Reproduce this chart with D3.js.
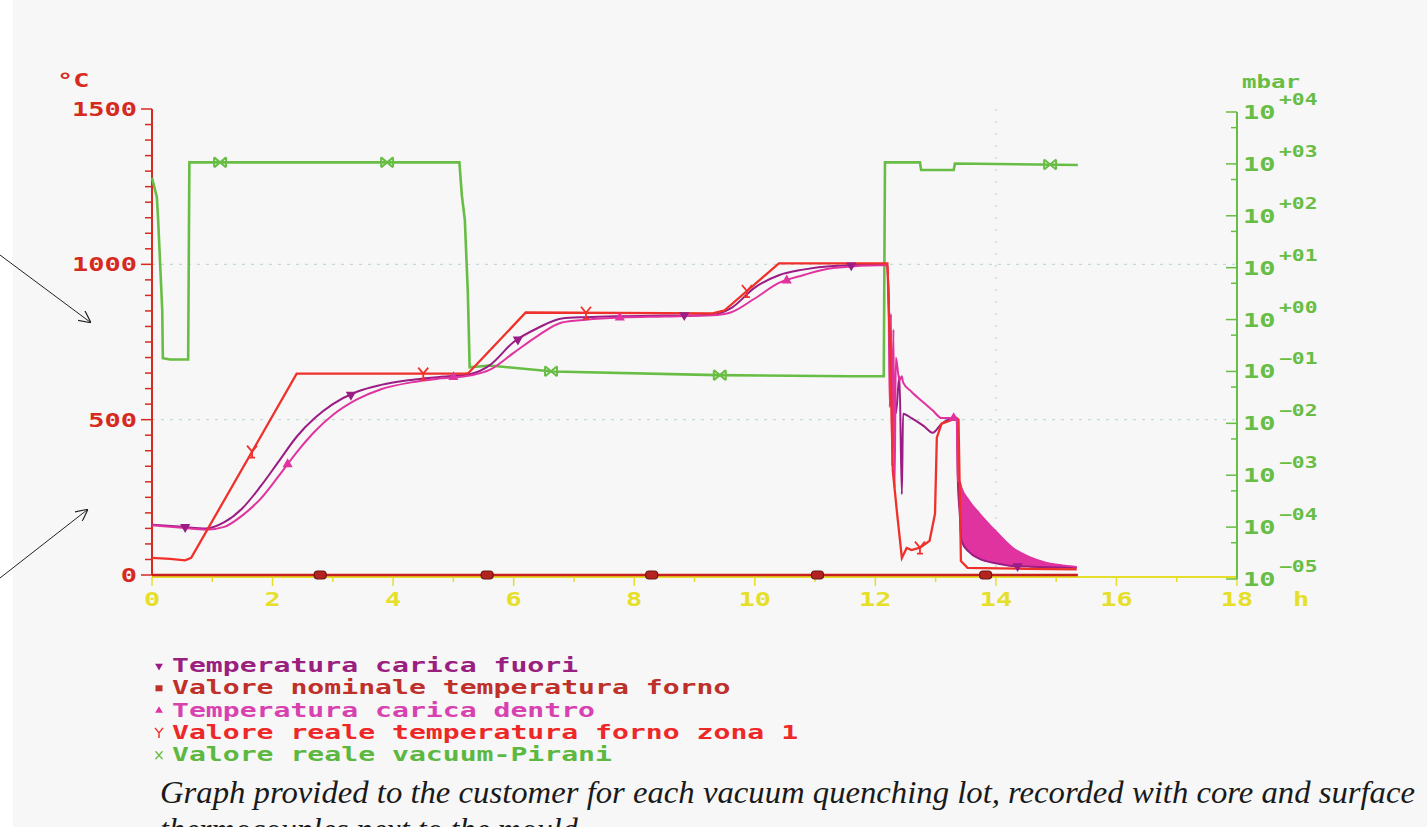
<!DOCTYPE html>
<html>
<head>
<meta charset="utf-8">
<script src="https://cdn.jsdelivr.net/npm/d3@7"></script>
<style>
  html, body { margin: 0; padding: 0; background: #f7f7f7; overflow: hidden; }
  svg { display: block; }
  .mono { font-family: "DejaVu Sans Mono", monospace; font-weight: bold; }
</style>
</head>
<body>
<script>
// ---- data ----
// charge thermocouples share one time base (hours)
const chargeHours = [0, 0.5, 0.9, 1.2, 1.5, 1.8, 2.1, 2.4, 2.7, 3.0, 3.4, 3.8, 4.3, 4.8, 5.3, 5.6, 6.0, 6.4, 6.8, 7.2, 7.8, 8.5, 9.3, 9.6, 10.0, 10.4, 10.8, 11.3, 12.2,
  12.22, 12.24, 12.26, 12.28, 12.30, 12.32, 12.34, 12.40, 12.44, 12.46, 12.6, 12.8, 12.95, 13.1, 13.35, 13.37, 13.40, 13.43, 13.55, 13.73, 14.0, 14.28, 14.55, 14.84, 15.1, 15.34];
const chargeOutside = [162, 155, 150, 170, 215, 285, 365, 445, 505, 550, 590, 612, 628, 638, 648, 675, 750, 795, 826, 830, 833, 835, 838, 858, 925, 965, 983, 995, 1000,
  900, 760, 650, 600, 560, 530, 520, 640, 260, 519, 505, 480, 458, 487, 506, 300, 200, 110, 75, 52, 38, 29, 27, 25, 24, 23];
const chargeInside = [160, 152, 146, 155, 192, 245, 318, 395, 462, 515, 565, 598, 620, 633, 643, 660, 715, 770, 813, 822, 829, 832, 836, 845, 890, 940, 965, 988, 998,
  870, 540, 840, 350, 790, 280, 700, 626, 640, 620, 590, 555, 530, 505, 505, 303, 300, 280, 240, 197, 140, 87, 58, 39, 31, 26];

const furnaceHours = [0, 0.3, 0.55, 0.65, 2.4, 5.2, 5.25, 6.2, 9.3, 9.5, 10.4, 12.2, 12.25, 12.29, 12.36, 12.44, 12.52, 12.6, 12.74, 12.9, 12.99, 13.02, 13.1, 13.35, 13.38, 13.42, 13.53, 14.5, 15.34];
const furnaceZone1 = [55, 52, 47, 55, 648, 648, 650, 845, 842, 852, 1003, 1003, 700, 335, 200, 55, 87, 80, 88, 110, 197, 442, 487, 505, 500, 45, 23, 20, 18];

const nominalHours = [0, 15.36];
const nominalTemp = [0, 0];

const vacuumHours = [0, 0.08, 0.1, 0.17, 0.18, 0.3, 0.6, 0.62, 1.5, 5.1, 5.14, 5.19, 5.24, 5.27, 5.6, 6.65, 9.37, 11.58, 12.14, 12.16, 12.74, 12.76, 13.3, 13.32, 15.36];
const vacuumMbar = [540, 230, 93, 1.5, 0.18, 0.17, 0.17, 1070, 1070, 1070, 250, 83, 3.2, 0.12, 0.13, 0.10, 0.085, 0.081, 0.081, 1070, 1070, 760, 760, 1020, 955];

// where the recorder printed its series symbols (hours)
const markOutside = [0.55, 3.3, 6.07, 8.83, 11.6, 14.36];
const markInside = [2.25, 5.0, 7.76, 10.53, 13.3];
const markZone1 = [1.66, 4.5, 7.2, 9.87, 12.74];
const markNominal = [2.79, 5.56, 8.29, 11.04, 13.83];
const markVacuum = [1.13, 3.9, 6.62, 9.42, 14.9];

const tempTicks = [0, 500, 1000, 1500];
const hourTicks = [0, 2, 4, 6, 8, 10, 12, 14, 16, 18];
const pressureExp = [-5, -4, -3, -2, -1, 0, 1, 2, 3, 4];

const legendLabels = [
  "Temperatura carica fuori",
  "Valore nominale temperatura forno",
  "Temperatura carica dentro",
  "Valore reale temperatura forno zona 1",
  "Valore reale vacuum-Pirani"
];
const caption = "Graph provided to the customer for each vacuum quenching lot, recorded with core and surface";
const caption2 = "thermocouples next to the mould.";

// ---- colours ----
const cRed = "#f0302a", cAxisRed = "#d62a20", cNominal = "#c8201c", cInside = "#e0339f",
      cOutside = "#9a1c84", cGreen = "#68bd45", cYellow = "#e6df2a";

const width = 1427, height = 827;
const svg = d3.select("body").append("svg").attr("width", width).attr("height", height);

svg.append("rect").attr("width", width).attr("height", height).attr("fill", "#f7f7f7");
svg.append("rect").attr("width", 13).attr("height", height).attr("fill", "#ffffff");

const x = d3.scaleLinear().domain([0, 18]).range([152, 1237]);
const yT = d3.scaleLinear().domain([0, 1500]).range([575, 109]);
const yP = d3.scaleLog().domain([1e-5, 1e4]).range([579, 112]);

function monoText(g, px, py, str, size, color, anchor, sx) {
  return g.append("text")
    .attr("class", "mono")
    .attr("transform", `translate(${px},${py}) scale(${sx || 1.42},1)`)
    .attr("text-anchor", anchor || "start")
    .style("font-size", size + "px")
    .attr("fill", color)
    .text(str);
}

// ---- faint grid ----
const grid = svg.append("g");
[500, 1000].forEach(v => {
  grid.append("line").attr("x1", x(0)).attr("x2", x(18)).attr("y1", yT(v)).attr("y2", yT(v))
    .attr("stroke", "#9fc4c0").attr("stroke-width", 1).attr("stroke-dasharray", "3,6").attr("opacity", 0.7);
});
[14].forEach(v => {
  grid.append("line").attr("x1", x(v)).attr("x2", x(v)).attr("y1", yT(1500)).attr("y2", yT(0))
    .attr("stroke", "#a8bcc8").attr("stroke-width", 1).attr("stroke-dasharray", "2,10").attr("opacity", 0.8);
});

// ---- axes ----
const axes = svg.append("g");

// x axis (yellow)
axes.append("line").attr("x1", x(0)).attr("x2", x(18)).attr("y1", 577).attr("y2", 577)
  .attr("stroke", cYellow).attr("stroke-width", 2);
d3.range(0, 19).forEach(h => {
  axes.append("line").attr("x1", x(h)).attr("x2", x(h)).attr("y1", 577).attr("y2", h % 2 === 0 ? 586 : 582)
    .attr("stroke", cYellow).attr("stroke-width", 1.5);
});
hourTicks.forEach(h => monoText(axes, x(h), 606, String(h), 19, cYellow, "middle"));
monoText(axes, 1301, 606, "h", 19, cYellow, "middle");

// left temperature axis (red)
axes.append("line").attr("x1", x(0)).attr("x2", x(0)).attr("y1", yT(1500)).attr("y2", yT(0))
  .attr("stroke", cAxisRed).attr("stroke-width", 2);
d3.range(0, 1501, 50).forEach(v => {
  const major = v % 500 === 0;
  axes.append("line").attr("x1", x(0) - (major ? 11 : 7)).attr("x2", x(0)).attr("y1", yT(v)).attr("y2", yT(v))
    .attr("stroke", cAxisRed).attr("stroke-width", 1.5);
});
tempTicks.forEach(v => monoText(axes, 137, yT(v) + 7, String(v), 19, cAxisRed, "end"));
monoText(axes, 57, 87, "°C", 19, cAxisRed, "start");

// right pressure axis (green, log)
axes.append("line").attr("x1", x(18)).attr("x2", x(18)).attr("y1", yP(1e4)).attr("y2", yP(1e-5))
  .attr("stroke", cGreen).attr("stroke-width", 2);
pressureExp.forEach(e => {
  const p = Math.pow(10, e);
  axes.append("line").attr("x1", x(18) - 11).attr("x2", x(18)).attr("y1", yP(p)).attr("y2", yP(p))
    .attr("stroke", cGreen).attr("stroke-width", 1.5);
  if (e > -5) {
    axes.append("line").attr("x1", x(18) - 6).attr("x2", x(18)).attr("y1", yP(p / 2)).attr("y2", yP(p / 2))
      .attr("stroke", cGreen).attr("stroke-width", 1.5);
  }
  monoText(axes, 1243, yP(p) + 7, "10", 19, cGreen, "start");
  const sup = (e < 0 ? "\u2212" : "+") + String(Math.abs(e)).padStart(2, "0");
  monoText(axes, 1279, yP(p) - 7, sup, 15, cGreen, "start");
});
monoText(axes, 1242, 88, "mbar", 17, cGreen, "start");

// ---- series ----
const plot = svg.append("g");

function interp(hours, vals, t, log) {
  const i = Math.max(1, d3.bisectLeft(hours, t));
  const h0 = hours[i - 1], h1 = hours[i];
  const f = h1 === h0 ? 0 : (t - h0) / (h1 - h0);
  if (log) return Math.pow(10, Math.log10(vals[i - 1]) + f * (Math.log10(vals[i]) - Math.log10(vals[i - 1])));
  return vals[i - 1] + f * (vals[i] - vals[i - 1]);
}

const tempLine = d3.line().x(d => x(d[0])).y(d => yT(d[1]));
const tempCurve = d3.line().x(d => x(d[0])).y(d => yT(d[1])).curve(d3.curveMonotoneX);
const pressLine = d3.line().x(d => x(d[0])).y(d => yP(d[1]));

const outsidePts = chargeHours.map((h, i) => [h, chargeOutside[i]]);
const insidePts = chargeHours.map((h, i) => [h, chargeInside[i]]);
const furnacePts = furnaceHours.map((h, i) => [h, furnaceZone1[i]]);
const nominalPts = nominalHours.map((h, i) => [h, nominalTemp[i]]);
const vacuumPts = vacuumHours.map((h, i) => [h, vacuumMbar[i]]);

// vacuum
plot.append("path").attr("d", pressLine(vacuumPts)).attr("fill", "none")
  .attr("stroke", cGreen).attr("stroke-width", 2.6);

// quench band between core and surface readings
const bandIdx = chargeHours.map((h, i) => i).filter(i => chargeHours[i] >= 13.37);
const band = d3.area().x(i => x(chargeHours[i])).y0(i => yT(chargeOutside[i])).y1(i => yT(chargeInside[i]))
  .curve(d3.curveMonotoneX);
plot.append("path").attr("d", band(bandIdx)).attr("fill", cInside).attr("stroke", cInside).attr("stroke-width", 1);

plot.append("path").attr("d", tempCurve(outsidePts)).attr("fill", "none")
  .attr("stroke", cOutside).attr("stroke-width", 2);
plot.append("path").attr("d", tempCurve(insidePts)).attr("fill", "none")
  .attr("stroke", cInside).attr("stroke-width", 2);

plot.append("path").attr("d", tempLine(furnacePts)).attr("fill", "none")
  .attr("stroke", cRed).attr("stroke-width", 2.3);

plot.append("path").attr("d", tempLine(nominalPts)).attr("fill", "none")
  .attr("stroke", cNominal).attr("stroke-width", 2.4);

// ---- symbols ----
const triDown = d3.symbol(d3.symbolTriangle, 45)();
const triUp = d3.symbol(d3.symbolTriangle, 45)();
const yShape = "M-5,-6L0,0L5,-6M0,0V6M-3,6H3";
const xShape = "M-6,-5L6,5M-6,5L6,-5M-6,-5V5M6,-5V5";

function drawMarks(times, getY, draw) {
  times.forEach(t => draw(plot.append("g").attr("transform", `translate(${x(t)},${getY(t)})`)));
}
drawMarks(markOutside, t => yT(interp(chargeHours, chargeOutside, t)),
  g => g.append("path").attr("d", triDown).attr("transform", "rotate(180)").attr("fill", cOutside));
drawMarks(markInside, t => yT(interp(chargeHours, chargeInside, t)),
  g => g.append("path").attr("d", triUp).attr("fill", cInside));
drawMarks(markZone1, t => yT(interp(furnaceHours, furnaceZone1, t)),
  g => g.append("path").attr("d", yShape).attr("fill", "none").attr("stroke", cRed).attr("stroke-width", 1.8));
drawMarks(markNominal, t => yT(interp(nominalHours, nominalTemp, t)),
  g => g.append("rect").attr("x", -6).attr("y", -4).attr("width", 12).attr("height", 8).attr("rx", 3)
    .attr("fill", "#b5231e").attr("stroke", "#6a1a18").attr("stroke-width", 1.2));
drawMarks(markVacuum, t => yP(interp(vacuumHours, vacuumMbar, t, true)),
  g => g.append("path").attr("d", xShape).attr("fill", "none").attr("stroke", cGreen).attr("stroke-width", 2));

// ---- legend ----
const legend = svg.append("g");
const legendColors = ["#9a2080", "#c0302a", "#d842b0", "#ee2828", "#5cb840"];
const legendSymbols = [
  g => g.append("path").attr("d", d3.symbol(d3.symbolTriangle, 26)()).attr("transform", "rotate(180)").attr("fill", cOutside),
  g => g.append("rect").attr("x", -3.5).attr("y", -3).attr("width", 7).attr("height", 6).attr("fill", "#c0302a"),
  g => g.append("path").attr("d", d3.symbol(d3.symbolTriangle, 26)()).attr("fill", cInside),
  g => g.append("path").attr("d", "M-4,-5L0,0L4,-5M0,0V5").attr("fill", "none").attr("stroke", cRed).attr("stroke-width", 1.5),
  g => g.append("path").attr("d", "M-3.5,-4L3.5,4M-3.5,4L3.5,-4").attr("fill", "none").attr("stroke", cGreen).attr("stroke-width", 1.3)
];
legendLabels.forEach((lab, i) => {
  const by = 672 + i * 22.3;
  legendSymbols[i](legend.append("g").attr("transform", `translate(159,${by - 6})`));
  monoText(legend, 172, by, lab, 19, legendColors[i], "start", 1.48);
});

// ---- caption ----
svg.append("text").attr("x", 160).attr("y", 803)
  .attr("textLength", 1255).attr("lengthAdjust", "spacingAndGlyphs")
  .style("font-family", "'Liberation Serif', 'DejaVu Serif', serif").style("font-style", "italic")
  .style("font-size", "32px").attr("fill", "#1a1a1a").text(caption);
svg.append("text").attr("x", 160).attr("y", 840)
  .style("font-family", "'Liberation Serif', 'DejaVu Serif', serif").style("font-style", "italic")
  .style("font-size", "32px").attr("fill", "#1a1a1a").text(caption2);

// ---- pointer arrows on the left margin ----
svg.append("defs").append("marker").attr("id", "arr").attr("viewBox", "0 0 10 10")
  .attr("refX", 9).attr("refY", 5).attr("markerWidth", 12).attr("markerHeight", 12).attr("orient", "auto")
  .attr("markerUnits", "userSpaceOnUse")
  .append("path").attr("d", "M0,0L10,5L0,10").attr("fill", "none").attr("stroke", "#222").attr("stroke-width", 1);
svg.append("line").attr("x1", 0).attr("y1", 255).attr("x2", 90).attr("y2", 322)
  .attr("stroke", "#222").attr("stroke-width", 1).attr("marker-end", "url(#arr)");
svg.append("line").attr("x1", 0).attr("y1", 578).attr("x2", 87).attr("y2", 510)
  .attr("stroke", "#222").attr("stroke-width", 1).attr("marker-end", "url(#arr)");
</script>
</body>
</html>
